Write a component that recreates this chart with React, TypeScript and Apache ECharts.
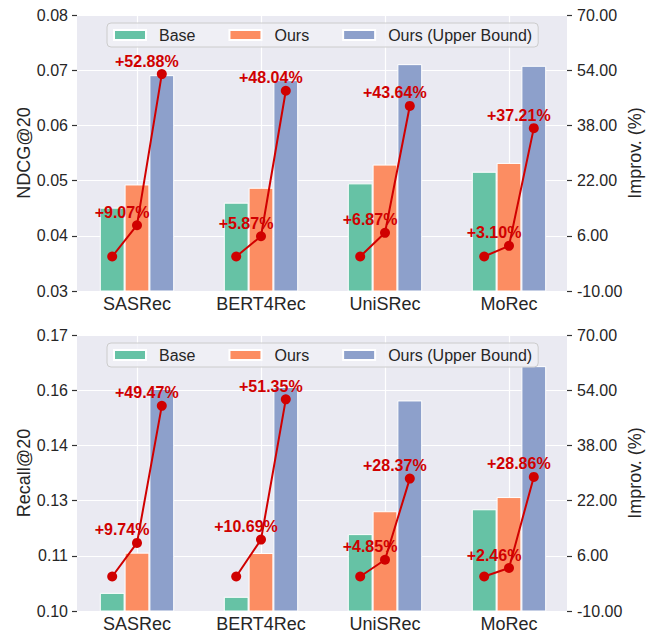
import React, { useEffect, useRef } from "react";
import * as echarts from "echarts";

const categories = ["SASRec", "BERT4Rec", "UniSRec", "MoRec"];
const seriesNames = ["Base", "Ours", "Ours (Upper Bound)"];

const ndcgBase = [0.0451, 0.046, 0.0495, 0.0516];
const ndcgOurs = [0.0493, 0.0487, 0.0529, 0.0532];
const ndcgUpper = [0.0691, 0.0682, 0.0711, 0.0708];
const ndcgImprovOurs = [9.07, 5.87, 6.87, 3.1];
const ndcgImprovUpper = [52.88, 48.04, 43.64, 37.21];

const recallBase = [0.1046, 0.1036, 0.1195, 0.1258];
const recallOurs = [0.1148, 0.1147, 0.1253, 0.1289];
const recallUpper = [0.1563, 0.1568, 0.1534, 0.1621];
const recallImprovOurs = [9.74, 10.69, 4.85, 2.46];
const recallImprovUpper = [49.47, 51.35, 28.37, 28.86];

const ndcgTicks = [0.03, 0.04, 0.05, 0.06, 0.07, 0.08];
const recallTicks = [0.1, 0.114, 0.128, 0.142, 0.156, 0.17];
const improvTicks = [-10, 6, 22, 38, 54, 70];

const BAR_COLORS = ["#66c2a5", "#fc8d62", "#8da0cb"];
const RED = "#d00000";
const TXT = "#262626";
const BG = "#eaeaf2";
const FONT = '"Liberation Sans", Arial, sans-serif';
const BAR_FRAC = 0.2;

export default function App() {
  const ref = useRef<HTMLDivElement>(null);

  useEffect(() => {
    if (!ref.current) return;
    const chart = echarts.init(ref.current, null, { renderer: "svg" });

    const panels = [
      {
        top: 15,
        name: "NDCG@20",
        ticks: ndcgTicks,
        bars: [ndcgBase, ndcgOurs, ndcgUpper],
        imOurs: ndcgImprovOurs,
        imUpper: ndcgImprovUpper,
      },
      {
        top: 335,
        name: "Recall@20",
        ticks: recallTicks,
        bars: [recallBase, recallOurs, recallUpper],
        imOurs: recallImprovOurs,
        imUpper: recallImprovUpper,
      },
    ];

    const grid: any[] = [];
    const xAxis: any[] = [];
    const yAxis: any[] = [];
    const series: any[] = [];
    const legend: any[] = [];
    const graphic: any[] = [];

    const labelOpt = {
      show: true,
      position: "top",
      distance: 0,
      offset: [-15, 0],
      color: RED,
      fontWeight: "bold",
      fontSize: 16,
      fontFamily: FONT,
      formatter: (p: any) => "+" + Number(p.value[1]).toFixed(2) + "%",
    };

    const tickStyle = { show: true, inside: false, length: 5, lineStyle: { color: "#333333", width: 1.2 } };

    panels.forEach((p, k) => {
      grid.push({ left: 75, top: p.top, width: 496, height: 276, containLabel: false });
      graphic.push({
        type: "rect",
        z: -10,
        silent: true,
        shape: { x: 77, y: p.top, width: 490, height: 276 },
        style: { fill: BG },
      });
      xAxis.push({
        type: "category",
        gridIndex: k,
        data: categories,
        axisLine: { show: false },
        axisTick: { show: false },
        splitLine: { show: false },
        axisLabel: { fontSize: 18, color: TXT, fontFamily: FONT, margin: 4 },
      });
      xAxis.push({
        type: "value",
        gridIndex: k,
        min: -0.5,
        max: 3.5,
        splitNumber: 4,
        axisLine: { show: false, onZero: false },
        axisTick: { show: false },
        axisLabel: { show: false },
        splitLine: { show: true, lineStyle: { color: "#ffffff", width: 1.2 } },
      });
      const lo = p.ticks[0];
      const hi = p.ticks[p.ticks.length - 1];
      yAxis.push({
        type: "value",
        gridIndex: k,
        position: "left",
        min: lo,
        max: hi,
        offset: -2,
        name: p.name,
        nameLocation: "middle",
        nameRotate: 90,
        nameGap: 44,
        nameMoveOverlap: false,
        nameTextStyle: { fontSize: 18, color: TXT, fontFamily: FONT },
        axisLine: { show: true, onZero: false, lineStyle: { color: "rgba(0,0,0,0)" } },
        axisTick: { ...tickStyle, customValues: p.ticks },
        axisLabel: {
          fontSize: 16,
          color: TXT,
          fontFamily: FONT,
          margin: 9,
          customValues: p.ticks,
          formatter: (v: number) => v.toFixed(2),
        },
        splitLine: { show: true, lineStyle: { color: "#ffffff", width: 1.2 } },
      });
      yAxis.push({
        type: "value",
        gridIndex: k,
        position: "right",
        min: improvTicks[0],
        max: improvTicks[improvTicks.length - 1],
        offset: -4,
        name: "Improv. (%)",
        nameLocation: "middle",
        nameRotate: 90,
        nameGap: 59,
        nameMoveOverlap: false,
        nameTextStyle: { fontSize: 18, color: TXT, fontFamily: FONT },
        axisLine: { show: true, onZero: false, lineStyle: { color: "rgba(0,0,0,0)" } },
        axisTick: { ...tickStyle, customValues: improvTicks },
        axisLabel: {
          fontSize: 16,
          color: TXT,
          fontFamily: FONT,
          margin: 10,
          customValues: improvTicks,
          formatter: (v: number) => v.toFixed(2),
        },
        splitLine: { show: false },
      });
      p.bars.forEach((vals, j) => {
        series.push({
          type: "bar",
          name: seriesNames[j],
          xAxisIndex: 2 * k,
          yAxisIndex: 2 * k,
          data: vals,
          barWidth: BAR_FRAC * 100 + "%",
          barGap: "0%",
          itemStyle: { color: BAR_COLORS[j], borderColor: "#ffffff", borderWidth: 1 },
        });
      });
      categories.forEach((c, i) => {
        series.push({
          type: "line",
          name: "improv-" + k + "-" + c,
          xAxisIndex: 2 * k + 1,
          yAxisIndex: 2 * k + 1,
          symbol: "circle",
          symbolSize: 10,
          color: RED,
          lineStyle: { color: RED, width: 2 },
          itemStyle: { color: RED },
          z: 5,
          data: [
            { value: [i - BAR_FRAC, 0] },
            { value: [i, p.imOurs[i]], label: labelOpt },
            { value: [i + BAR_FRAC, p.imUpper[i]], label: labelOpt },
          ],
        });
      });
      legend.push({
        data: seriesNames,
        top: p.top + 8,
        left: 107,
        orient: "horizontal",
        icon: "rect",
        itemWidth: 32,
        itemHeight: 10,
        itemGap: 33,
        padding: [4, 6],
        backgroundColor: "rgba(240,240,246,0.85)",
        borderColor: "#cccccc",
        borderWidth: 1,
        borderRadius: 4,
        textStyle: { fontSize: 16, color: TXT, fontFamily: FONT, padding: [0, 0, 0, 8] },
      });
    });

    chart.setOption({
      animation: false,
      textStyle: { fontFamily: FONT },
      grid,
      xAxis,
      yAxis,
      series,
      legend,
      graphic,
    });

    return () => chart.dispose();
  }, []);

  return (
    <div
      ref={ref}
      style={{ position: "fixed", left: 0, top: 0, width: 655, height: 636, background: "#ffffff" }}
    />
  );
}
